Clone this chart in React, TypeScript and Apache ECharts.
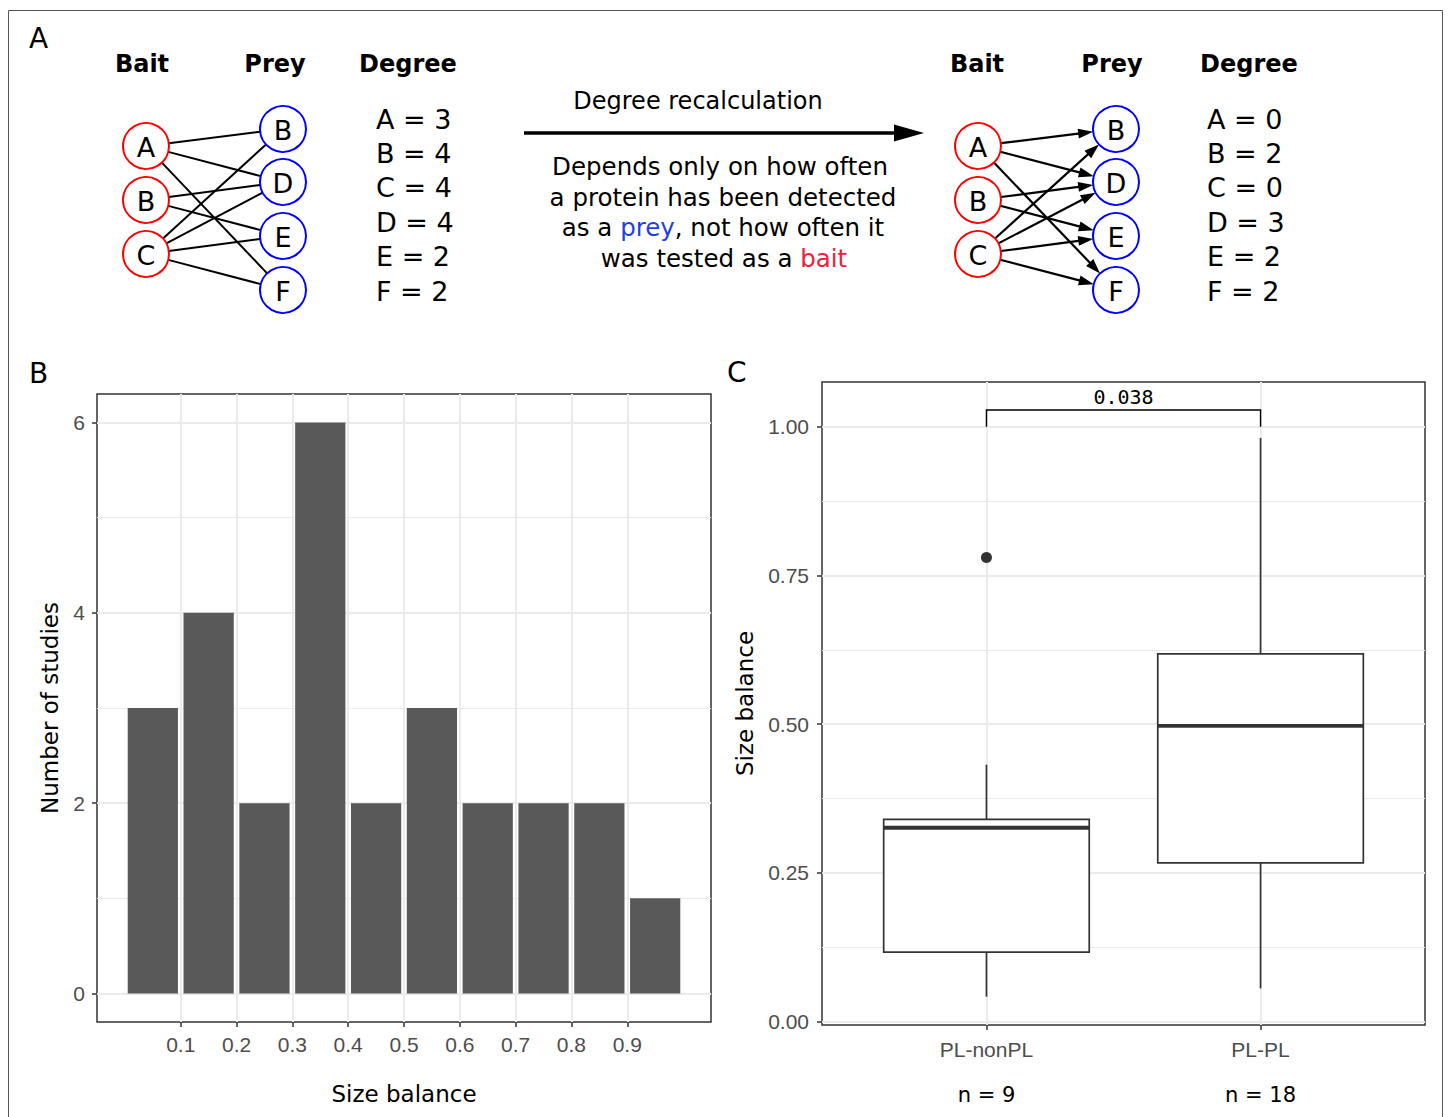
import React, { useEffect, useRef } from 'react';
import * as echarts from 'echarts';

// ---------- Panel B: histogram ----------
const binCenters = [0.05, 0.15, 0.25, 0.35, 0.45, 0.55, 0.65, 0.75, 0.85, 0.95];
const studyCounts = [3, 4, 2, 6, 2, 3, 2, 2, 2, 1];
const histXTicks = [0.1, 0.2, 0.3, 0.4, 0.5, 0.6, 0.7, 0.8, 0.9];
const histYTicks = [0, 2, 4, 6];
const histYMinor = [1, 3, 5];

// ---------- Panel C: boxplot ----------
const groups = ['PL-nonPL', 'PL-PL'];
const groupN = [9, 18];
// five-number summaries per group
const boxLower = [0.042, 0.056];
const boxQ1 = [0.117, 0.267];
const boxMedian = [0.326, 0.497];
const boxQ3 = [0.340, 0.618];
const boxUpper = [0.432, 0.981];
const outlierGroup = [1];
const outlierValue = [0.78];
const boxYTicks = [0, 0.25, 0.5, 0.75, 1.0];
const boxYMinor = [0.125, 0.375, 0.625, 0.875];
const pValueLabel = '0.038';
const bracketY = 1.028;
const bracketTip = 1.0;

// ---------- Panel A: networks ----------
const baitNodes = ['A', 'B', 'C'];
const preyNodes = ['B', 'D', 'E', 'F'];
const edges = [
  ['A', 'B'], ['A', 'D'], ['A', 'F'],
  ['B', 'D'], ['B', 'E'],
  ['C', 'B'], ['C', 'D'], ['C', 'E'], ['C', 'F'],
];
const degreeNames = ['A', 'B', 'C', 'D', 'E', 'F'];
const degreeBefore = [3, 4, 4, 4, 2, 2];
const degreeAfter = [0, 2, 0, 3, 2, 2];

const DV = 'DejaVu Sans';
const LS = 'Liberation Sans';
const RED = '#ff0000';
const BLUE = '#0000ff';

function buildNetwork(baitX: number, preyX: number, arrows: boolean, headerX: number[], degX: number, degrees: number[]) {
  const els: any[] = [];
  const baitY = [146, 200, 254];
  const preyY = [129, 182, 236, 290];
  const r = 23;
  edges.forEach(([s, t]) => {
    const x1 = baitX, y1 = baitY[baitNodes.indexOf(s)];
    const x2 = preyX, y2 = preyY[preyNodes.indexOf(t)];
    const dx = x2 - x1, dy = y2 - y1;
    const L = Math.hypot(dx, dy);
    const ux = dx / L, uy = dy / L;
    const sx = x1 + ux * r, sy = y1 + uy * r;
    const ex = x2 - ux * r, ey = y2 - uy * r;
    if (arrows) {
      const hl = 15, hw = 5;
      const bx = ex - ux * hl, by = ey - uy * hl;
      els.push({ type: 'line', shape: { x1: sx, y1: sy, x2: bx + ux * 2, y2: by + uy * 2 }, style: { stroke: '#000', lineWidth: 2.2 } });
      els.push({ type: 'polygon', shape: { points: [[ex, ey], [bx - uy * hw, by + ux * hw], [bx + uy * hw, by - ux * hw]] }, style: { fill: '#000' } });
    } else {
      els.push({ type: 'line', shape: { x1: sx, y1: sy, x2: ex, y2: ey }, style: { stroke: '#000', lineWidth: 2 } });
    }
  });
  baitNodes.forEach((n, i) => {
    els.push({ type: 'circle', shape: { cx: baitX, cy: baitY[i], r }, style: { fill: 'none', stroke: RED, lineWidth: 2 } });
    els.push({ type: 'text', x: baitX, y: baitY[i] + 1, style: { text: n, fontSize: 27, fontFamily: DV, fill: '#000', align: 'center', verticalAlign: 'middle' } });
  });
  preyNodes.forEach((n, i) => {
    els.push({ type: 'circle', shape: { cx: preyX, cy: preyY[i], r }, style: { fill: 'none', stroke: BLUE, lineWidth: 2 } });
    els.push({ type: 'text', x: preyX, y: preyY[i] + 1, style: { text: n, fontSize: 27, fontFamily: DV, fill: '#000', align: 'center', verticalAlign: 'middle' } });
  });
  ['Bait', 'Prey', 'Degree'].forEach((h, i) => {
    els.push({ type: 'text', x: headerX[i], y: 64, style: { text: h, fontSize: 24, fontWeight: 'bold', fontFamily: DV, fill: '#000', align: 'center', verticalAlign: 'middle' } });
  });
  degreeNames.forEach((n, i) => {
    els.push({ type: 'text', x: degX, y: 119 + i * 34.4, style: { text: `${n} = ${degrees[i]}`, fontSize: 27, fontFamily: DV, fill: '#000', align: 'left', verticalAlign: 'middle' } });
  });
  return els;
}

export default function App() {
  const ref = useRef<HTMLDivElement>(null);
  useEffect(() => {
    if (!ref.current) return;
    const chart = echarts.init(ref.current, undefined, { renderer: 'svg' });

    const graphic: any[] = [
      { type: 'rect', z: -10, shape: { x: 8.5, y: 10.5, width: 1434, height: 1130 }, style: { fill: 'none', stroke: '#555', lineWidth: 1 } },
      { type: 'text', x: 29, y: 38, style: { text: 'A', fontSize: 28, fontFamily: DV, fill: '#000', verticalAlign: 'middle' } },
      { type: 'text', x: 29, y: 373, style: { text: 'B', fontSize: 28, fontFamily: DV, fill: '#000', verticalAlign: 'middle' } },
      { type: 'text', x: 727, y: 372, style: { text: 'C', fontSize: 28, fontFamily: DV, fill: '#000', verticalAlign: 'middle' } },
      ...buildNetwork(146, 283, false, [142, 275, 408], 376, degreeBefore),
      ...buildNetwork(978, 1116, true, [977, 1112, 1249], 1207, degreeAfter),
      { type: 'text', x: 698, y: 101, style: { text: 'Degree recalculation', fontSize: 24, fontFamily: DV, fill: '#000', align: 'center', verticalAlign: 'middle' } },
      { type: 'line', shape: { x1: 524, y1: 133, x2: 897, y2: 133 }, style: { stroke: '#000', lineWidth: 3.5 } },
      { type: 'polygon', shape: { points: [[924, 133], [894, 124.5], [894, 141.5]] }, style: { fill: '#000' } },
      { type: 'text', x: 720, y: 166, style: { text: 'Depends only on how often', fontSize: 24.5, fontFamily: DV, fill: '#000', align: 'center', verticalAlign: 'middle' } },
      { type: 'text', x: 723, y: 197, style: { text: 'a protein has been detected', fontSize: 24.5, fontFamily: DV, fill: '#000', align: 'center', verticalAlign: 'middle' } },
      {
        type: 'text', x: 723, y: 227, style: {
          text: 'as a {p|prey}, not how often it', fontSize: 24.5, fontFamily: DV, fill: '#000', align: 'center', verticalAlign: 'middle',
          rich: { p: { fill: '#1f3fe6', fontSize: 24.5, fontFamily: DV } },
        },
      },
      {
        type: 'text', x: 724, y: 258, style: {
          text: 'was tested as a {b|bait}', fontSize: 24.5, fontFamily: DV, fill: '#000', align: 'center', verticalAlign: 'middle',
          rich: { b: { fill: '#f0203c', fontSize: 24.5, fontFamily: DV } },
        },
      },
    ];

    const tickStyle = { color: '#333', width: 1.5 };
    const axisTitle = { color: '#000', fontSize: 23, fontFamily: DV };

    const option: any = {
      animation: false,
      backgroundColor: '#fff',
      grid: [
        { left: 97, top: 394, width: 614, height: 628, show: true, borderColor: '#333', borderWidth: 1.5, backgroundColor: '#fff' },
        { left: 822, top: 382, width: 603, height: 643, show: true, borderColor: '#333', borderWidth: 1.5, backgroundColor: '#fff' },
      ],
      xAxis: [
        {
          gridIndex: 0, type: 'value', min: -0.05, max: 1.05,
          axisLine: { show: false, onZero: false },
          axisTick: { show: true, customValues: histXTicks, length: 5, lineStyle: tickStyle },
          axisLabel: { customValues: histXTicks, formatter: (v: number) => String(v), color: '#4d4d4d', fontSize: 21, fontFamily: LS, margin: 12 },
          splitLine: { show: true, lineStyle: { color: '#ebebeb', width: 2 } },
          name: 'Size balance', nameLocation: 'middle', nameGap: 60, nameTextStyle: axisTitle,
        },
        {
          gridIndex: 1, type: 'value', min: 0.4, max: 2.6,
          axisLine: { show: false, onZero: false },
          axisTick: { show: true, customValues: [1, 2], length: 5, lineStyle: tickStyle },
          axisLabel: {
            customValues: [1, 2], margin: 12,
            formatter: (v: number) => `{a|${groups[v - 1]}}\n{b|n = ${groupN[v - 1]}}`,
            rich: {
              a: { color: '#4d4d4d', fontSize: 21, fontFamily: LS, lineHeight: 24 },
              b: { color: '#000', fontSize: 21, fontFamily: DV, lineHeight: 68 },
            },
          },
          splitLine: { show: true, lineStyle: { color: '#ebebeb', width: 2 } },
        },
      ],
      yAxis: [
        {
          gridIndex: 0, type: 'value', min: -0.3, max: 6.3,
          axisLine: { show: false, onZero: false },
          axisTick: { show: true, customValues: histYTicks, length: 5, lineStyle: tickStyle },
          axisLabel: { customValues: histYTicks, color: '#4d4d4d', fontSize: 21, fontFamily: LS, margin: 12 },
          splitLine: { show: true, lineStyle: { color: '#ebebeb', width: 2 } },
          name: 'Number of studies', nameLocation: 'middle', nameGap: 36, nameTextStyle: axisTitle,
        },
        {
          gridIndex: 0, type: 'value', min: -0.3, max: 6.3, position: 'left',
          axisLine: { show: false, onZero: false },
          axisTick: { show: false, customValues: histYMinor },
          axisLabel: { show: false, customValues: histYMinor },
          splitLine: { show: true, lineStyle: { color: '#ebebeb', width: 1 } },
        },
        {
          gridIndex: 1, type: 'value', min: -0.0055, max: 1.075,
          axisLine: { show: false, onZero: false },
          axisTick: { show: true, customValues: boxYTicks, length: 5, lineStyle: tickStyle },
          axisLabel: { customValues: boxYTicks, formatter: (v: number) => v.toFixed(2), color: '#4d4d4d', fontSize: 21, fontFamily: LS, margin: 13 },
          splitLine: { show: true, lineStyle: { color: '#ebebeb', width: 2 } },
          name: 'Size balance', nameLocation: 'middle', nameGap: 66, nameTextStyle: axisTitle,
        },
        {
          gridIndex: 1, type: 'value', min: -0.0055, max: 1.075, position: 'left',
          axisLine: { show: false, onZero: false },
          axisTick: { show: false, customValues: boxYMinor },
          axisLabel: { show: false, customValues: boxYMinor },
          splitLine: { show: true, lineStyle: { color: '#ebebeb', width: 1 } },
        },
      ],
      series: [
        {
          type: 'custom', name: 'studies', xAxisIndex: 0, yAxisIndex: 0,
          data: binCenters.map((c, i) => [c, studyCounts[i]]),
          encode: { x: 0, y: 1 },
          renderItem: (params: any, api: any) => {
            const c = api.value(0), n = api.value(1);
            const p0 = api.coord([c - 0.045, n]);
            const p1 = api.coord([c + 0.045, 0]);
            return { type: 'rect', shape: { x: p0[0], y: p0[1], width: p1[0] - p0[0], height: p1[1] - p0[1] }, style: { fill: '#595959' } };
          },
        },
        {
          type: 'custom', name: 'box', xAxisIndex: 1, yAxisIndex: 2,
          data: groups.map((g, i) => [i + 1, boxLower[i], boxQ1[i], boxMedian[i], boxQ3[i], boxUpper[i]]),
          encode: { x: 0, y: [1, 2, 3, 4, 5] },
          renderItem: (params: any, api: any) => {
            const x = api.value(0);
            const lw = api.value(1), q1 = api.value(2), med = api.value(3), q3 = api.value(4), uw = api.value(5);
            const half = 0.375;
            const c = (v: number) => api.coord([x, v]);
            const tl = api.coord([x - half, q3]);
            const br = api.coord([x + half, q1]);
            const ml = api.coord([x - half, med]);
            const mr = api.coord([x + half, med]);
            const st = { stroke: '#333', lineWidth: 1.7 };
            return {
              type: 'group', children: [
                { type: 'line', shape: { x1: c(uw)[0], y1: c(uw)[1], x2: c(q3)[0], y2: c(q3)[1] }, style: st },
                { type: 'line', shape: { x1: c(q1)[0], y1: c(q1)[1], x2: c(lw)[0], y2: c(lw)[1] }, style: st },
                { type: 'rect', shape: { x: tl[0], y: tl[1], width: br[0] - tl[0], height: br[1] - tl[1] }, style: { fill: '#fff', stroke: '#333', lineWidth: 1.7 } },
                { type: 'line', shape: { x1: ml[0], y1: ml[1], x2: mr[0], y2: mr[1] }, style: { stroke: '#333', lineWidth: 3.8 } },
              ],
            };
          },
        },
        {
          type: 'scatter', name: 'outliers', xAxisIndex: 1, yAxisIndex: 2,
          data: outlierGroup.map((g, i) => [g, outlierValue[i]]),
          symbolSize: 11, itemStyle: { color: '#333', opacity: 1 },
        },
        {
          type: 'custom', name: 'bracket', xAxisIndex: 1, yAxisIndex: 2,
          data: [[1, 2, bracketY, bracketTip]],
          encode: { x: [0, 1], y: [2, 3] },
          renderItem: (params: any, api: any) => {
            const a = api.value(0), b = api.value(1), y = api.value(2), tip = api.value(3);
            const p1 = api.coord([a, tip]), p2 = api.coord([a, y]), p3 = api.coord([b, y]), p4 = api.coord([b, tip]);
            const mid = api.coord([(a + b) / 2, y]);
            return {
              type: 'group', children: [
                { type: 'polyline', shape: { points: [p1, p2, p3, p4] }, style: { stroke: '#000', lineWidth: 1.4, fill: 'none' } },
                { type: 'text', x: mid[0], y: mid[1] - 3, style: { text: pValueLabel, fontSize: 20, fontFamily: 'DejaVu Sans Mono', fill: '#000', align: 'center', verticalAlign: 'bottom' } },
              ],
            };
          },
        },
      ],
      graphic,
    };
    chart.setOption(option);
    return () => chart.dispose();
  }, []);
  return <div ref={ref} style={{ position: 'absolute', left: 0, top: 0, width: 1448, height: 1117 }} />;
}
